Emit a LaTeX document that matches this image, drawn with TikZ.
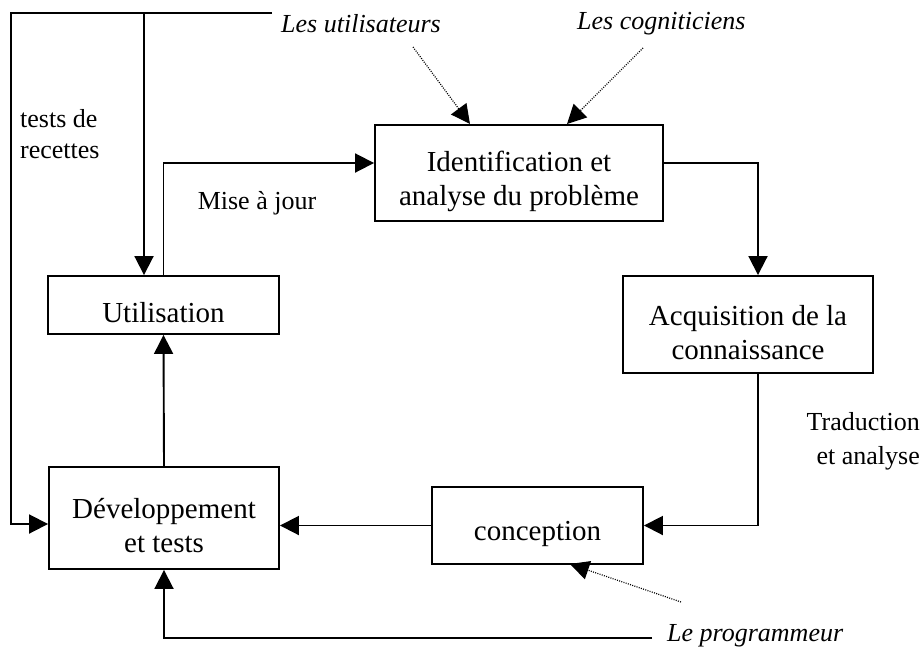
\documentclass[tikz,border=0pt]{standalone}
\usepackage{fontspec}
\setmainfont{Liberation Serif}
\usetikzlibrary{arrows.meta}
\begin{document}
\begin{tikzpicture}[x=1pt,y=-1pt,
  boxnode/.style={draw,line width=1.9pt,inner sep=0pt},
  boxtext/.style={align=center,inner sep=0pt,yshift=-8pt,font=\fontsize{29}{34}\selectfont},
  lbl/.style={inner sep=0pt,font=\fontsize{26}{32}\selectfont},
  conn/.style={line width=1.9pt,-{Triangle[length=19pt,width=19pt]}},
  dotconn/.style={line width=1.2pt,dash pattern=on 1pt off 1.3pt,-{Triangle[length=19pt,width=19pt]}}]
\useasboundingbox (0,0) rectangle (923,648);
% boxes
\node[boxnode,minimum width=288pt,minimum height=96pt,label={[boxtext]center:Identification et\\analyse du probl\`eme}] (ident) at (519,173) {};
\node[boxnode,minimum width=231pt,minimum height=58pt,label={[boxtext]center:Utilisation}] (util) at (163.5,305) {};
\node[boxnode,minimum width=250pt,minimum height=97pt,label={[boxtext]center:Acquisition de la\\connaissance}] (acq) at (748,324.5) {};
\node[boxnode,minimum width=230pt,minimum height=102pt,label={[boxtext]center:D\'eveloppement\\et tests}] (dev) at (164,518) {};
\node[boxnode,minimum width=211pt,minimum height=77pt,label={[boxtext]center:conception}] (conc) at (537.5,525.5) {};
% labels
\node[lbl,anchor=west,font=\fontsize{26}{32}\selectfont\itshape] (lu) at (281,24) {Les utilisateurs};
\node[lbl,anchor=west,font=\fontsize{26}{32}\selectfont\itshape] (lc) at (577,24) {Les cogniticiens};
\node[lbl,anchor=west,font=\fontsize{26}{32}\selectfont\itshape] (lp) at (667,636) {Le programmeur};
\node[lbl,anchor=north west,align=left,font=\fontsize{26}{31}\selectfont] (tr) at (20,109) {tests de\\recettes};
\node[lbl] (maj) at (257,203) {Mise \`a jour};
\node[lbl,anchor=east,align=right,font=\fontsize{26}{34}\selectfont] (ta) at (920,441) {Traduction\\et analyse};
% coordinates
\coordinate (topr) at (272,13);
\coordinate (topl) at (11,13);
\coordinate (topm) at (144,13);
\coordinate (botr) at (652,638);
\coordinate (d1s) at (413,47);
\coordinate (d1e) at (470,124);
\coordinate (d2s) at (643,48);
\coordinate (d2e) at (567,124);
\coordinate (d3s) at (681,602);
\coordinate (d3e) at (570,564);
% connectors
\draw[conn] (topr) -- (topl) |- ([yshift=-6pt]dev.west);
\draw[conn] (topm) -- (topm |- util.north);
\draw[conn] (util.north) |- ([yshift=10pt]ident.west);
\draw[conn] ([yshift=10pt]ident.east) -| ([xshift=10pt]acq.north);
\draw[conn] ([xshift=10pt]acq.south) |- (conc.east);
\draw[conn] (conc.west) -- (conc.west -| dev.east);
\draw[conn] (dev.north) -- (util.south);
\draw[conn] (botr) -| (dev.south);
\draw[dotconn] (d1s) -- (d1e);
\draw[dotconn] (d2s) -- (d2e);
\draw[dotconn] (d3s) -- (d3e);
\end{tikzpicture}
\end{document}
